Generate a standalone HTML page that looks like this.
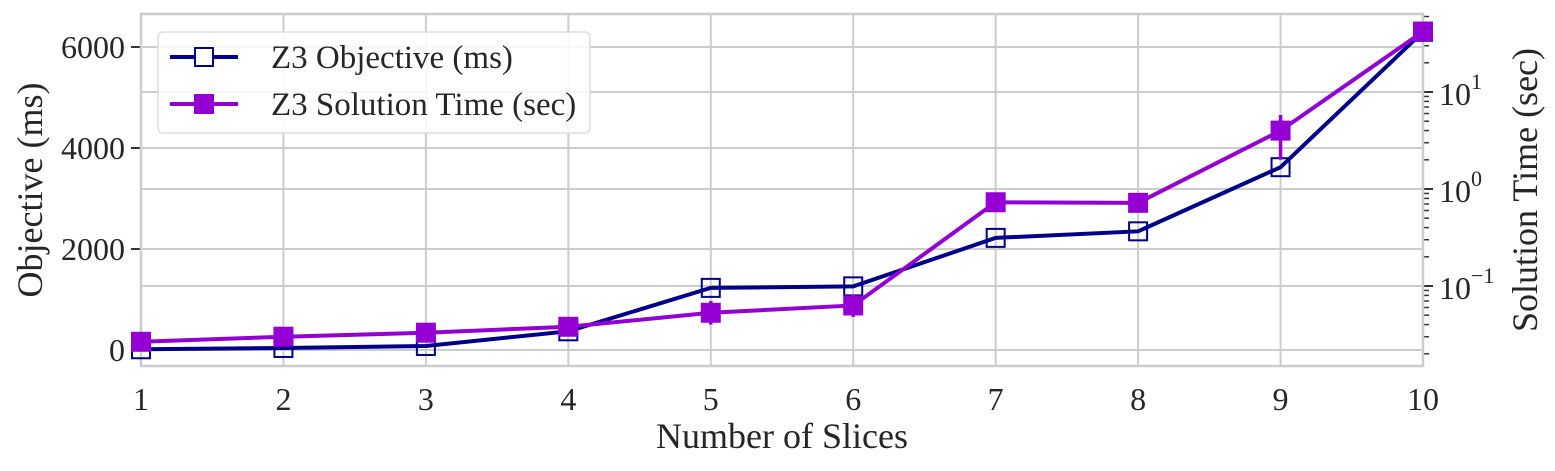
<!DOCTYPE html>
<html><head><meta charset="utf-8"><style>
body{margin:0;background:#fff;}
svg{display:block;}
text{font-family:"Liberation Serif","DejaVu Serif",serif;}
</style></head><body>
<svg id="chart" width="1555" height="471" viewBox="0 0 1555 471">
<g id="grid"></g>
<g id="axes"></g>
<g id="series"></g>
<g id="legend"></g>
</svg>
<script>
const categories=[1,2,3,4,5,6,7,8,9,10];
const objectiveMs=[15,40,80,370,1230,1260,2220,2350,3620,6300];
const solutionSec=[0.0266,0.030,0.033,0.038,0.053,0.063,0.73,0.72,4.0,42];
const solutionLow=[0.0266,0.030,0.033,0.038,0.040,0.048,0.58,0.72,2.0,42];
const solutionHigh=[0.0266,0.030,0.033,0.038,0.07,0.082,0.90,0.72,5.8,42];
const leftTicks=[0,2000,4000,6000];
const rightTicks=[-1,0,1];

const NS="http://www.w3.org/2000/svg";
const L=141,R=1423,T=14,B=366;
const x=v=>L+(v-1)*(R-L)/9;
const yL=v=>350-v*(350-47)/6000;
const yR=v=>189-Math.log10(v)*97;
function mk(tag,attrs,parent){const e=document.createElementNS(NS,tag);for(const k in attrs)e.setAttribute(k,attrs[k]);parent.appendChild(e);return e;}
const grid=document.getElementById('grid'),axes=document.getElementById('axes'),series=document.getElementById('series'),legend=document.getElementById('legend');
const gc='#cccccc';
categories.forEach(c=>{const l=mk('line',{x1:x(c),x2:x(c),y1:T,y2:B,stroke:gc,'stroke-width':2},grid);

});
leftTicks.forEach(t=>{const l=mk('line',{x1:L,x2:R,y1:yL(t),y2:yL(t),stroke:gc,'stroke-width':2},grid);


const tk=mk('line',{x1:L-10,x2:L,y1:yL(t),y2:yL(t),stroke:'#333','stroke-width':2},axes);


const tx=mk('text',{x:L-16,y:yL(t)+11,'text-anchor':'end','font-size':32,fill:'#262626'},axes);tx.textContent=t;

});
rightTicks.forEach(p=>{const yy=189-p*97;const l=mk('line',{x1:L,x2:R,y1:yy,y2:yy,stroke:gc,'stroke-width':2},grid);


const tk=mk('line',{x1:R,x2:R+10,y1:yy,y2:yy,stroke:'#333','stroke-width':2},axes);


const tx=mk('text',{x:R+16,y:yy+13,'font-size':32,fill:'#262626'},axes);
tx.innerHTML='10<tspan dy="-16" font-size="22">'+(p<0?'\u2212':'')+Math.abs(p)+'</tspan>';

});
for(let p=-2;p<=1;p++){for(let m=2;m<=9;m++){const v=m*Math.pow(10,p);const yy=yR(v);if(yy<T||yy>B)continue;
const tk=mk('line',{x1:R,x2:R+6,y1:yy,y2:yy,stroke:'#333','stroke-width':1.5},axes);

}}
const frame=mk('rect',{x:L,y:T,width:R-L,height:B-T,fill:'none',stroke:gc,'stroke-width':2.5},axes);


categories.forEach(c=>{const tx=mk('text',{x:x(c),y:410,'text-anchor':'middle','font-size':32,fill:'#262626'},axes);tx.textContent=c;

});
let t=mk('text',{x:782,y:448,'text-anchor':'middle','font-size':36,fill:'#262626'},axes);t.textContent='Number of Slices';

t=mk('text',{x:0,y:0,'text-anchor':'middle','font-size':36,fill:'#262626',transform:'translate(42,190) rotate(-90)'},axes);t.textContent='Objective (ms)';

t=mk('text',{x:0,y:0,'text-anchor':'middle','font-size':36,fill:'#262626',transform:'translate(1537,190) rotate(-90)'},axes);t.textContent='Solution Time (sec)';


const blue='#00008b',purple='#9400d3';
let p=mk('polyline',{points:categories.map((c,i)=>x(c)+','+yL(objectiveMs[i])).join(' '),fill:'none',stroke:blue,'stroke-width':4},series);

categories.forEach((c,i)=>{const r=mk('rect',{x:x(c)-9,y:yL(objectiveMs[i])-9,width:18,height:18,fill:'none',stroke:blue,'stroke-width':2},series);

});
categories.forEach((c,i)=>{const e=mk('line',{x1:x(c),x2:x(c),y1:yR(solutionLow[i]),y2:yR(solutionHigh[i]),stroke:purple,'stroke-width':3.5},series);

});
p=mk('polyline',{points:categories.map((c,i)=>x(c)+','+yR(solutionSec[i])).join(' '),fill:'none',stroke:purple,'stroke-width':4},series);

categories.forEach((c,i)=>{const r=mk('rect',{x:x(c)-10,y:yR(solutionSec[i])-10,width:20,height:20,fill:purple},series);

});

const lb=mk('rect',{x:158,y:32,width:432,height:101,rx:5,fill:'#fff','fill-opacity':0.85,stroke:'#dddddd','stroke-width':1.5},legend);

[[blue,'Z3 Objective (ms)',68,false],[purple,'Z3 Solution Time (sec)',115,true]].forEach(([col,lab,yy,filled])=>{
const g=mk('g',{},legend);


mk('line',{x1:170,x2:238,y1:yy-11,y2:yy-11,stroke:col,'stroke-width':4},g);
if(filled)mk('rect',{x:194,y:yy-21,width:20,height:20,fill:col},g);
else mk('rect',{x:195,y:yy-20,width:18,height:18,fill:'#fff',stroke:col,'stroke-width':2},g);
const tx=mk('text',{x:271,y:yy,'font-size':33,fill:'#262626'},g);tx.textContent=lab;});
</script>
</body></html>
